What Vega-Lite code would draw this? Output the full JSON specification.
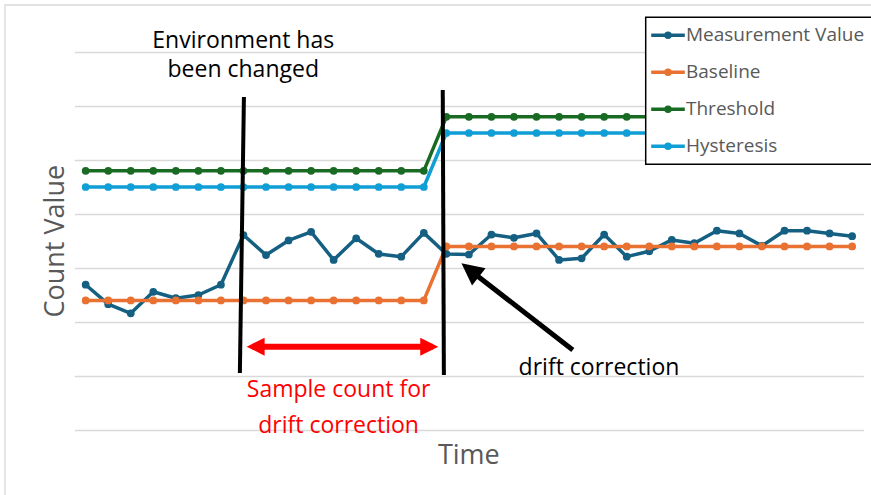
{
  "$schema": "https://vega.github.io/schema/vega-lite/v6.json",
  "width": 789,
  "height": 378,
  "autosize": {"type": "none"},
  "padding": {"left": 74.4, "top": 52, "right": 7.6, "bottom": 65},
  "background": "white",
  "config": {
    "font": "Open Sans",
    "view": {"stroke": null},
    "axisX": {"labels": false, "ticks": false, "domain": false, "grid": false, "titleFontSize": 27, "titleFontWeight": "normal", "titleColor": "#595959", "titleX": 393.9, "titleY": 33.3, "titleBaseline": "alphabetic", "titleAlign": "center"},
    "axisY": {"labels": false, "ticks": false, "domain": false, "grid": true, "gridColor": "#d9d9d9", "gridWidth": 1.3, "titleFontSize": 27, "titleFontWeight": "normal", "titleColor": "#595959", "titleX": -11.1, "titleY": 188.7, "titleAngle": -90, "titleBaseline": "alphabetic", "titleAlign": "center"}
  },
  "datasets": {
    "series": [
      {"t": 0, "Measurement Value": 26.9, "Baseline": 24, "Threshold": 48, "Hysteresis": 45},
      {"t": 1, "Measurement Value": 23.3, "Baseline": 24, "Threshold": 48, "Hysteresis": 45},
      {"t": 2, "Measurement Value": 21.6, "Baseline": 24, "Threshold": 48, "Hysteresis": 45},
      {"t": 3, "Measurement Value": 25.6, "Baseline": 24, "Threshold": 48, "Hysteresis": 45},
      {"t": 4, "Measurement Value": 24.4, "Baseline": 24, "Threshold": 48, "Hysteresis": 45},
      {"t": 5, "Measurement Value": 25.0, "Baseline": 24, "Threshold": 48, "Hysteresis": 45},
      {"t": 6, "Measurement Value": 26.9, "Baseline": 24, "Threshold": 48, "Hysteresis": 45},
      {"t": 7, "Measurement Value": 36.1, "Baseline": 24, "Threshold": 48, "Hysteresis": 45},
      {"t": 8, "Measurement Value": 32.4, "Baseline": 24, "Threshold": 48, "Hysteresis": 45},
      {"t": 9, "Measurement Value": 35.1, "Baseline": 24, "Threshold": 48, "Hysteresis": 45},
      {"t": 10, "Measurement Value": 36.7, "Baseline": 24, "Threshold": 48, "Hysteresis": 45},
      {"t": 11, "Measurement Value": 31.5, "Baseline": 24, "Threshold": 48, "Hysteresis": 45},
      {"t": 12, "Measurement Value": 35.5, "Baseline": 24, "Threshold": 48, "Hysteresis": 45},
      {"t": 13, "Measurement Value": 32.6, "Baseline": 24, "Threshold": 48, "Hysteresis": 45},
      {"t": 14, "Measurement Value": 32.1, "Baseline": 24, "Threshold": 48, "Hysteresis": 45},
      {"t": 15, "Measurement Value": 36.5, "Baseline": 24, "Threshold": 48, "Hysteresis": 45},
      {"t": 16, "Measurement Value": 32.6, "Baseline": 34, "Threshold": 58, "Hysteresis": 55},
      {"t": 17, "Measurement Value": 32.5, "Baseline": 34, "Threshold": 58, "Hysteresis": 55},
      {"t": 18, "Measurement Value": 36.2, "Baseline": 34, "Threshold": 58, "Hysteresis": 55},
      {"t": 19, "Measurement Value": 35.6, "Baseline": 34, "Threshold": 58, "Hysteresis": 55},
      {"t": 20, "Measurement Value": 36.4, "Baseline": 34, "Threshold": 58, "Hysteresis": 55},
      {"t": 21, "Measurement Value": 31.5, "Baseline": 34, "Threshold": 58, "Hysteresis": 55},
      {"t": 22, "Measurement Value": 31.8, "Baseline": 34, "Threshold": 58, "Hysteresis": 55},
      {"t": 23, "Measurement Value": 36.2, "Baseline": 34, "Threshold": 58, "Hysteresis": 55},
      {"t": 24, "Measurement Value": 32.1, "Baseline": 34, "Threshold": 58, "Hysteresis": 55},
      {"t": 25, "Measurement Value": 33.1, "Baseline": 34, "Threshold": 58, "Hysteresis": 55},
      {"t": 26, "Measurement Value": 35.2, "Baseline": 34, "Threshold": 58, "Hysteresis": 55},
      {"t": 27, "Measurement Value": 34.6, "Baseline": 34, "Threshold": 58, "Hysteresis": 55},
      {"t": 28, "Measurement Value": 36.9, "Baseline": 34, "Threshold": 58, "Hysteresis": 55},
      {"t": 29, "Measurement Value": 36.4, "Baseline": 34, "Threshold": 58, "Hysteresis": 55},
      {"t": 30, "Measurement Value": 34.1, "Baseline": 34, "Threshold": 58, "Hysteresis": 55},
      {"t": 31, "Measurement Value": 36.9, "Baseline": 34, "Threshold": 58, "Hysteresis": 55},
      {"t": 32, "Measurement Value": 36.9, "Baseline": 34, "Threshold": 58, "Hysteresis": 55},
      {"t": 33, "Measurement Value": 36.4, "Baseline": 34, "Threshold": 58, "Hysteresis": 55},
      {"t": 34, "Measurement Value": 35.9, "Baseline": 34, "Threshold": 58, "Hysteresis": 55}
    ],
    "frame": [{"x": -3.58, "x2": 45, "y": 78.7, "y2": -30}],
    "vlines": [
      {"x": 7.02, "y": 61.67, "x2": 6.84, "y2": 10.56},
      {"x": 15.84, "y": 62.96, "x2": 15.89, "y2": 10.19}
    ],
    "redArrow": [{"x1": 7.14, "x2": 15.64, "s1": 7.4, "s2": 15.4, "y": 15.43}],
    "blackArrow": [{"tipX": 16.67, "tipY": 30.87, "neckX": 17.05, "neckY": 29.6, "tailX": 21.61, "tailY": 14.81}],
    "blackText": [
      {"x": 6.99, "y": 70.68, "text": "Environment has"},
      {"x": 6.99, "y": 65.43, "text": "been changed"},
      {"x": 22.77, "y": 10.19, "text": "drift correction"}
    ],
    "redText": [
      {"x": 11.22, "y": 6.17, "text": "Sample count for"},
      {"x": 11.22, "y": -0.5, "text": "drift correction"}
    ]
  },
  "layer": [
    {
      "data": {"name": "frame"},
      "mark": {"type": "rect", "fill": null, "fillOpacity": 0, "stroke": "#d9d9d9", "strokeWidth": 1.3},
      "encoding": {
        "x": {"field": "x", "type": "quantitative", "title": "Time"},
        "x2": {"field": "x2"},
        "y": {"field": "y", "type": "quantitative", "title": "Count Value"},
        "y2": {"field": "y2"}
      }
    },
    {
      "data": {"name": "series"},
      "transform": [{"fold": ["Measurement Value", "Baseline", "Threshold", "Hysteresis"], "as": ["series", "value"]}],
      "mark": {"type": "line", "strokeWidth": 3.5, "strokeJoin": "round", "point": {"filled": true, "size": 60, "strokeWidth": 0}},
      "encoding": {
        "x": {"field": "t", "type": "quantitative", "title": "Time", "scale": {"domain": [-0.5, 34.5], "nice": false, "zero": false}},
        "y": {"field": "value", "type": "quantitative", "title": "Count Value", "scale": {"domain": [0, 70], "nice": false, "zero": false}, "axis": {"values": [0, 10, 20, 30, 40, 50, 60, 70]}},
        "color": {
          "field": "series", "type": "nominal",
          "scale": {"domain": ["Measurement Value", "Baseline", "Threshold", "Hysteresis"], "range": ["#156082", "#E97132", "#196B24", "#0F9ED5"]},
          "legend": {
            "title": null, "orient": "none", "legendX": 571.3, "legendY": -34.7, "direction": "vertical",
            "symbolType": "M-2.1,0H2.1M-0.25,0A0.25,0.25 0 1,0 0.25,0A0.25,0.25 0 1,0 -0.25,0",
            "symbolSize": 256, "symbolStrokeWidth": 3.5, "symbolOffset": 4.3,
            "labelFontSize": 19, "labelColor": "#595959", "labelOffset": 8, "labelLimit": 400,
            "rowPadding": 17, "padding": 8, "strokeColor": "black", "fillColor": "white",
            "encode": {"legend": {"update": {"strokeWidth": {"value": 1.5}}}}
          }
        }
      }
    },
    {
      "data": {"name": "vlines"},
      "mark": {"type": "rule", "color": "black", "strokeWidth": 4},
      "encoding": {
        "x": {"field": "x", "type": "quantitative", "title": "Time"},
        "y": {"field": "y", "type": "quantitative", "title": "Count Value"},
        "x2": {"field": "x2"},
        "y2": {"field": "y2"}
      }
    },
    {
      "data": {"name": "redArrow"},
      "mark": {"type": "rule", "color": "#FF0000", "strokeWidth": 6},
      "encoding": {
        "x": {"field": "s1", "type": "quantitative", "title": "Time"},
        "x2": {"field": "s2"},
        "y": {"field": "y", "type": "quantitative", "title": "Count Value"}
      }
    },
    {
      "data": {"name": "redArrow"},
      "mark": {"type": "point", "filled": true, "color": "#FF0000", "opacity": 1, "size": 324, "shape": "M0,0L2,-1L2,1Z"},
      "encoding": {
        "x": {"field": "x1", "type": "quantitative", "title": "Time"},
        "y": {"field": "y", "type": "quantitative", "title": "Count Value"}
      }
    },
    {
      "data": {"name": "redArrow"},
      "mark": {"type": "point", "filled": true, "color": "#FF0000", "opacity": 1, "size": 324, "shape": "M0,0L-2,-1L-2,1Z"},
      "encoding": {
        "x": {"field": "x2", "type": "quantitative", "title": "Time"},
        "y": {"field": "y", "type": "quantitative", "title": "Count Value"}
      }
    },
    {
      "data": {"name": "blackArrow"},
      "mark": {"type": "rule", "color": "black", "strokeWidth": 5},
      "encoding": {
        "x": {"field": "tailX", "type": "quantitative", "title": "Time"},
        "y": {"field": "tailY", "type": "quantitative", "title": "Count Value"},
        "x2": {"field": "neckX"},
        "y2": {"field": "neckY"}
      }
    },
    {
      "data": {"name": "blackArrow"},
      "mark": {"type": "point", "filled": true, "color": "black", "opacity": 1, "size": 484, "shape": "M0,0L-2,-1L-2,1Z", "angle": 217.9},
      "encoding": {
        "x": {"field": "tipX", "type": "quantitative", "title": "Time"},
        "y": {"field": "tipY", "type": "quantitative", "title": "Count Value"}
      }
    },
    {
      "data": {"name": "blackText"},
      "mark": {"type": "text", "color": "black", "fontSize": 23, "align": "center", "baseline": "alphabetic"},
      "encoding": {
        "x": {"field": "x", "type": "quantitative", "title": "Time"},
        "y": {"field": "y", "type": "quantitative", "title": "Count Value"},
        "text": {"field": "text"}
      }
    },
    {
      "data": {"name": "redText"},
      "mark": {"type": "text", "color": "#FF0000", "fontSize": 23, "align": "center", "baseline": "alphabetic"},
      "encoding": {
        "x": {"field": "x", "type": "quantitative", "title": "Time"},
        "y": {"field": "y", "type": "quantitative", "title": "Count Value"},
        "text": {"field": "text"}
      }
    }
  ]
}
